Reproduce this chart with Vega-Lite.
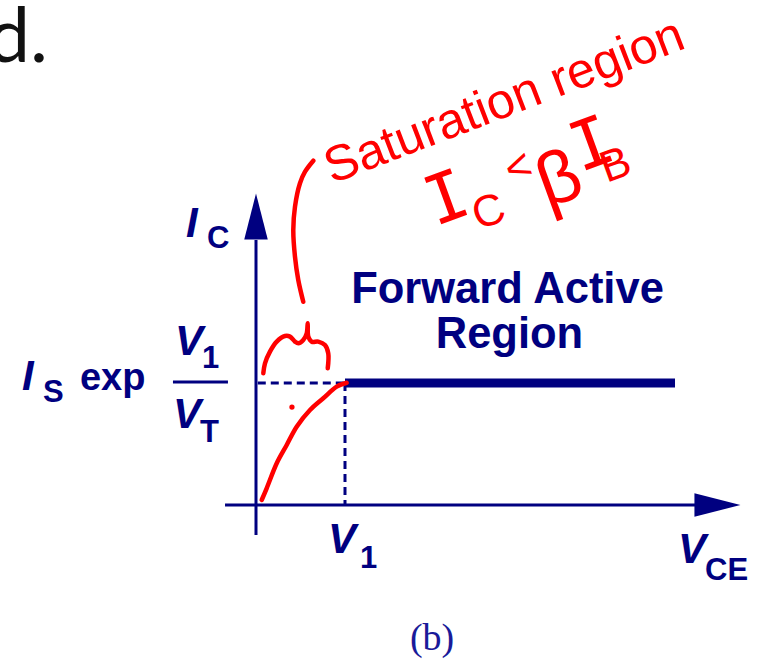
{
  "$schema": "https://vega.github.io/schema/vega-lite/v6.json",
  "width": 764,
  "height": 661,
  "padding": 0,
  "autosize": {"type": "none"},
  "background": "white",
  "config": {"view": {"stroke": null}},
  "datasets": {
    "frame": [
      {"x": -0.348, "y": 0, "x2": 4.989, "y2": 0},
      {"x": 0, "y": -0.246, "x2": 0, "y2": 2.172},
      {"x": -0.933, "y": 1.008, "x2": -0.315, "y2": 1.008}
    ],
    "active": [{"x": 1, "y": 1, "x2": 4.708, "y2": 1}],
    "guides": [
      {"x": 0.02, "y": 1, "x2": 1, "y2": 1},
      {"x": 1, "y": 1, "x2": 1, "y2": 0}
    ],
    "heads": [
      {"axis": "x", "x": 5.185, "y": 0},
      {"axis": "y", "x": 0, "y": 2.365}
    ],
    "ink": [
      {"stroke": "rise", "i": 0, "x": 0.064, "y": 0.041},
      {"stroke": "rise", "i": 1, "x": 0.12, "y": 0.137},
      {"stroke": "rise", "i": 2, "x": 0.233, "y": 0.342},
      {"stroke": "rise", "i": 3, "x": 0.345, "y": 0.492},
      {"stroke": "rise", "i": 4, "x": 0.457, "y": 0.642},
      {"stroke": "rise", "i": 5, "x": 0.607, "y": 0.779},
      {"stroke": "rise", "i": 6, "x": 0.756, "y": 0.875},
      {"stroke": "rise", "i": 7, "x": 0.907, "y": 0.97},
      {"stroke": "rise", "i": 8, "x": 1.019, "y": 1.002},
      {"stroke": "brace", "i": 0, "x": 0.082, "y": 1.08},
      {"stroke": "brace", "i": 1, "x": 0.101, "y": 1.161},
      {"stroke": "brace", "i": 2, "x": 0.157, "y": 1.257},
      {"stroke": "brace", "i": 3, "x": 0.233, "y": 1.339},
      {"stroke": "brace", "i": 4, "x": 0.326, "y": 1.385},
      {"stroke": "brace", "i": 5, "x": 0.382, "y": 1.38},
      {"stroke": "brace", "i": 6, "x": 0.438, "y": 1.339},
      {"stroke": "brace", "i": 7, "x": 0.475, "y": 1.325},
      {"stroke": "brace", "i": 8, "x": 0.531, "y": 1.352},
      {"stroke": "brace", "i": 9, "x": 0.57, "y": 1.407},
      {"stroke": "brace", "i": 10, "x": 0.581, "y": 1.489},
      {"stroke": "brace", "i": 11, "x": 0.588, "y": 1.38},
      {"stroke": "brace", "i": 12, "x": 0.626, "y": 1.339},
      {"stroke": "brace", "i": 13, "x": 0.7, "y": 1.339},
      {"stroke": "brace", "i": 14, "x": 0.775, "y": 1.311},
      {"stroke": "brace", "i": 15, "x": 0.812, "y": 1.243},
      {"stroke": "brace", "i": 16, "x": 0.806, "y": 1.12},
      {"stroke": "arc", "i": 0, "x": 0.531, "y": 1.666},
      {"stroke": "arc", "i": 1, "x": 0.475, "y": 1.844},
      {"stroke": "arc", "i": 2, "x": 0.438, "y": 2.035},
      {"stroke": "arc", "i": 3, "x": 0.419, "y": 2.254},
      {"stroke": "arc", "i": 4, "x": 0.438, "y": 2.445},
      {"stroke": "arc", "i": 5, "x": 0.494, "y": 2.637},
      {"stroke": "arc", "i": 6, "x": 0.551, "y": 2.732},
      {"stroke": "arc", "i": 7, "x": 0.644, "y": 2.822}
    ],
    "dot": [{"x": 0.404, "y": 0.803}],
    "symbols": [
      {"text": "I", "x": -0.787, "y": 2.197},
      {"text": "I", "x": -2.629, "y": 0.943},
      {"text": "V", "x": -0.91, "y": 1.23},
      {"text": "V", "x": -0.933, "y": 0.631},
      {"text": "V", "x": 0.809, "y": -0.393},
      {"text": "V", "x": 4.742, "y": -0.475}
    ],
    "subs": [
      {"text": "C", "x": -0.551, "y": 2.107},
      {"text": "S", "x": -2.393, "y": 0.844},
      {"text": "1", "x": -0.607, "y": 1.123},
      {"text": "T", "x": -0.629, "y": 0.516},
      {"text": "1", "x": 1.169, "y": -0.516},
      {"text": "CE", "x": 5.045, "y": -0.615}
    ],
    "func": [{"text": "exp", "x": -1.978, "y": 0.943}],
    "region": [
      {"text": "Forward Active", "x": 2.826, "y": 1.656},
      {"text": "Region", "x": 2.848, "y": 1.287}
    ],
    "caption": [{"text": "(b)", "x": 1.978, "y": -1.189}],
    "item": [{"text": "d.", "x": -2.337, "y": 3.631}],
    "note": [{"text": "Saturation region", "x": 0.854, "y": 2.631}],
    "relI": [
      {"text": "I", "x": 2.011, "y": 2.283},
      {"text": "I", "x": 3.64, "y": 2.725}
    ],
    "relBeta": [{"text": "β", "x": 3.27, "y": 2.43}],
    "relSmall": [
      {"text": "C", "x": 2.499, "y": 2.251},
      {"text": "<", "x": 2.865, "y": 2.623},
      {"text": "B", "x": 3.939, "y": 2.64}
    ]
  },
  "encoding": {
    "x": {"field": "x", "type": "quantitative", "scale": {"domain": [-2.8764, 5.7079], "nice": false, "zero": false}, "axis": null},
    "y": {"field": "y", "type": "quantitative", "scale": {"domain": [-1.2787, 4.1393], "nice": false, "zero": false}, "axis": null}
  },
  "layer": [
    {
      "data": {"name": "frame"},
      "mark": {"type": "rule", "color": "#000080", "strokeWidth": 3},
      "encoding": {"x2": {"field": "x2"}, "y2": {"field": "y2"}}
    },
    {
      "data": {"name": "guides"},
      "mark": {"type": "rule", "color": "#000080", "strokeWidth": 3, "strokeDash": [8, 5]},
      "encoding": {"x2": {"field": "x2"}, "y2": {"field": "y2"}}
    },
    {
      "data": {"name": "active"},
      "mark": {"type": "rule", "color": "#000080", "strokeWidth": 9},
      "encoding": {"x2": {"field": "x2"}, "y2": {"field": "y2"}}
    },
    {
      "data": {"name": "heads"},
      "transform": [{"filter": "datum.axis === 'x'"}],
      "mark": {"type": "point", "shape": "M-1,-0.511L1,0L-1,0.511Z", "size": 2116, "filled": true, "opacity": 1, "color": "#000080"}
    },
    {
      "data": {"name": "heads"},
      "transform": [{"filter": "datum.axis === 'y'"}],
      "mark": {"type": "point", "shape": "M-1,-0.511L1,0L-1,0.511Z", "size": 2116, "angle": -90, "filled": true, "opacity": 1, "color": "#000080"}
    },
    {
      "data": {"name": "ink"},
      "mark": {"type": "line", "color": "#ff0000", "strokeWidth": 4.5, "strokeCap": "round", "strokeJoin": "round", "interpolate": "catmull-rom"},
      "encoding": {"detail": {"field": "stroke"}, "order": {"field": "i", "type": "quantitative"}}
    },
    {
      "data": {"name": "dot"},
      "mark": {"type": "point", "shape": "circle", "size": 28, "filled": true, "opacity": 1, "color": "#ff0000"}
    },
    {
      "data": {"name": "symbols"},
      "mark": {"type": "text", "align": "left", "baseline": "alphabetic", "font": "Liberation Sans", "fontWeight": "bold", "fontStyle": "italic", "fontSize": 42, "color": "#000080"},
      "encoding": {"text": {"field": "text"}}
    },
    {
      "data": {"name": "subs"},
      "mark": {"type": "text", "align": "left", "baseline": "alphabetic", "font": "Liberation Sans", "fontWeight": "bold", "fontSize": 31, "color": "#000080"},
      "encoding": {"text": {"field": "text"}}
    },
    {
      "data": {"name": "func"},
      "mark": {"type": "text", "align": "left", "baseline": "alphabetic", "font": "Liberation Sans", "fontWeight": "bold", "fontSize": 38, "color": "#000080"},
      "encoding": {"text": {"field": "text"}}
    },
    {
      "data": {"name": "region"},
      "mark": {"type": "text", "align": "center", "baseline": "alphabetic", "font": "Liberation Sans", "fontWeight": "bold", "fontSize": 43.5, "color": "#000080"},
      "encoding": {"text": {"field": "text"}}
    },
    {
      "data": {"name": "caption"},
      "mark": {"type": "text", "align": "center", "baseline": "alphabetic", "font": "Liberation Serif", "fontSize": 38, "color": "#1a1a99"},
      "encoding": {"text": {"field": "text"}}
    },
    {
      "data": {"name": "item"},
      "mark": {"type": "text", "align": "right", "baseline": "alphabetic", "font": "Lato", "fontSize": 76, "color": "#111111"},
      "encoding": {"text": {"field": "text"}}
    },
    {
      "data": {"name": "note"},
      "mark": {"type": "text", "align": "left", "baseline": "alphabetic", "font": "Liberation Sans", "fontSize": 50, "angle": -21, "color": "#ff0000"},
      "encoding": {"text": {"field": "text"}}
    },
    {
      "data": {"name": "relI"},
      "mark": {"type": "text", "align": "left", "baseline": "alphabetic", "font": "DejaVu Sans Mono", "fontSize": 68, "angle": -20, "color": "#ff0000"},
      "encoding": {"text": {"field": "text"}}
    },
    {
      "data": {"name": "relBeta"},
      "mark": {"type": "text", "align": "left", "baseline": "alphabetic", "font": "Liberation Sans", "fontSize": 74, "angle": -20, "color": "#ff0000"},
      "encoding": {"text": {"field": "text"}}
    },
    {
      "data": {"name": "relSmall"},
      "mark": {"type": "text", "align": "left", "baseline": "alphabetic", "font": "Liberation Sans", "fontSize": 44, "angle": -20, "color": "#ff0000"},
      "encoding": {"text": {"field": "text"}}
    }
  ]
}
